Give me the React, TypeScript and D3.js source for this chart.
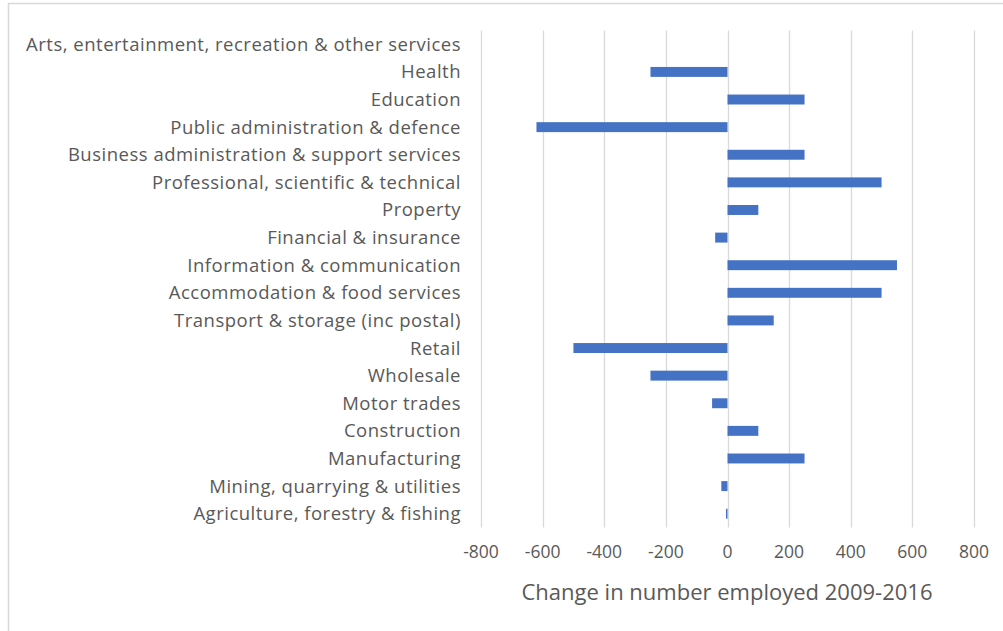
import { useRef, useEffect } from 'react';
import * as d3 from 'd3';

// Industries, top to bottom as shown
const categories = [
  'Arts, entertainment, recreation & other services',
  'Health',
  'Education',
  'Public administration & defence',
  'Business administration & support services',
  'Professional, scientific & technical',
  'Property',
  'Financial & insurance',
  'Information & communication',
  'Accommodation & food services',
  'Transport & storage (inc postal)',
  'Retail',
  'Wholesale',
  'Motor trades',
  'Construction',
  'Manufacturing',
  'Mining, quarrying & utilities',
  'Agriculture, forestry & fishing',
];

// Change in number employed 2009-2016
const changes = [
  0, -250, 250, -620, 250, 500, 100, -40, 550, 500, 150, -500, -250, -50, 100, 250, -20, -5,
];

const xTicks = [-800, -600, -400, -200, 0, 200, 400, 600, 800];
const axisTitle = 'Change in number employed 2009-2016';

const WIDTH = 1003;
const HEIGHT = 631;

export default function App() {
  const svgRef = useRef<SVGSVGElement>(null);

  useEffect(() => {
    if (!svgRef.current) return;
    const svg = d3.select(svgRef.current);
    svg.selectAll('*').remove();

    const font = '"Open Sans", Lato, sans-serif';
    const textColor = '#595959';
    const plot = { left: 481, right: 974, top: 30.5, bottom: 527.5 };

    // chart frame
    svg
      .append('path')
      .attr('d', `M8.5,${HEIGHT} V3.5 H${WIDTH}`)
      .attr('fill', 'none')
      .attr('stroke', '#d9d9d9')
      .attr('stroke-width', 1.5);

    const x = d3.scaleLinear().domain([-800, 800]).range([plot.left, plot.right]);
    const y = d3
      .scaleBand<string>()
      .domain(categories)
      .range([plot.top, plot.bottom])
      .paddingInner(0.64)
      .paddingOuter(0.32);

    // vertical gridlines
    svg
      .append('g')
      .selectAll('line')
      .data(xTicks)
      .enter()
      .append('line')
      .attr('x1', (d) => Math.round(x(d)) + 0.5)
      .attr('x2', (d) => Math.round(x(d)) + 0.5)
      .attr('y1', plot.top)
      .attr('y2', plot.bottom)
      .attr('stroke', '#d9d9d9')
      .attr('stroke-width', 1.3);

    // bars
    svg
      .append('g')
      .selectAll('rect')
      .data(changes)
      .enter()
      .append('rect')
      .attr('x', (d) => x(Math.min(0, d)))
      .attr('width', (d) => Math.abs(x(d) - x(0)))
      .attr('y', (_, i) => y(categories[i]) as number)
      .attr('height', y.bandwidth())
      .attr('fill', '#4472c4');

    // category labels
    svg
      .append('g')
      .selectAll('text')
      .data(categories)
      .enter()
      .append('text')
      .attr('x', 461)
      .attr('y', (d) => (y(d) as number) + y.bandwidth() / 2)
      .attr('dy', '0.35em')
      .attr('text-anchor', 'end')
      .attr('font-family', font)
      .attr('font-size', 18.5)
      .attr('letter-spacing', 0.5)
      .attr('fill', textColor)
      .text((d) => d);

    // tick labels
    svg
      .append('g')
      .selectAll('text')
      .data(xTicks)
      .enter()
      .append('text')
      .attr('x', (d) => x(d))
      .attr('y', 552)
      .attr('dy', '0.35em')
      .attr('text-anchor', 'middle')
      .attr('font-family', font)
      .attr('font-size', 17.5)
      .attr('fill', textColor)
      .text((d) => String(d));

    // axis title
    svg
      .append('text')
      .attr('x', 727)
      .attr('y', 592)
      .attr('dy', '0.35em')
      .attr('text-anchor', 'middle')
      .attr('font-family', font)
      .attr('font-size', 22)
      .attr('fill', textColor)
      .text(axisTitle);
  }, []);

  return (
    <div style={{ position: 'absolute', left: 0, top: 0, background: '#fff' }}>
      <svg ref={svgRef} width={WIDTH} height={HEIGHT} viewBox={`0 0 ${WIDTH} ${HEIGHT}`} />
    </div>
  );
}
